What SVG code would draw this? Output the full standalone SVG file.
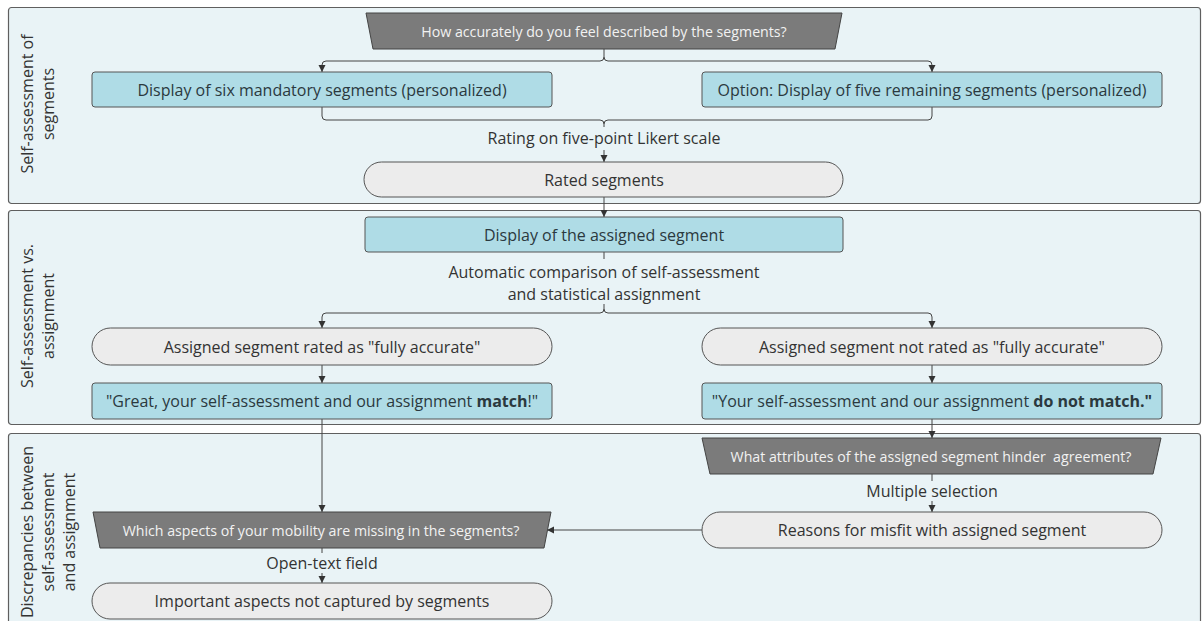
<svg xmlns="http://www.w3.org/2000/svg" width="1202" height="621" viewBox="0 0 1202 621">
<style>
  .panel { fill: #e9f3f6; stroke: #5f5f5f; stroke-width: 1.2; }
  .blue { fill: #afdce6; stroke: #555; stroke-width: 1; }
  .grey { fill: #ececec; stroke: #555; stroke-width: 1; }
  .trap { fill: #7b7b7b; stroke: #444; stroke-width: 1; stroke-linejoin: round; }
  text { font-family: "Open Sans", "Noto Sans", "Liberation Sans", sans-serif; fill: #333; }
  .t { font-size: 16px; text-anchor: middle; dominant-baseline: central; }
  .tb { fill: #2b393e; }
  .tw { font-size: 14.2px; text-anchor: middle; dominant-baseline: central; fill: #f2f2f2; white-space: pre; }
  .lane { font-size: 16px; text-anchor: middle; }
  .b { font-weight: bold; }
  .conn { fill: none; stroke: #444; stroke-width: 1; }
</style>
<defs>
  <marker id="arr" markerUnits="userSpaceOnUse" markerWidth="8" markerHeight="8" refX="7" refY="3.5" orient="auto">
    <path d="M0,0 L7,3.5 L0,7 z" fill="#333"/>
  </marker>
</defs>
<rect width="1202" height="621" fill="#ffffff"/>

<g id="lanes">
  <rect class="panel" x="8.5" y="7.5" width="1192" height="196" rx="3"/>
  <rect class="panel" x="8.5" y="210.5" width="1192" height="214" rx="3"/>
  <rect class="panel" x="8.5" y="433.5" width="1192" height="200" rx="3"/>
  <text class="lane" transform="translate(33,104) rotate(-90)"><tspan x="0" y="0">Self-assessment of</tspan><tspan x="0" y="21">segments</tspan></text>
  <text class="lane" transform="translate(33,316) rotate(-90)"><tspan x="0" y="0">Self-assessment vs.</tspan><tspan x="0" y="21">assignment</tspan></text>
  <text class="lane" transform="translate(33,532) rotate(-90)"><tspan x="0" y="0">Discrepancies between</tspan><tspan x="0" y="21">self-assessment</tspan><tspan x="0" y="42">and assignment</tspan></text>
</g>

<g id="connectors">
  <path class="conn" d="M604,49 V57 Q604,61 600,61 H326 Q322,61 322,65 V72" marker-end="url(#arr)"/>
  <path class="conn" d="M604,57 Q604,61 608,61 H928 Q932,61 932,65 V72" marker-end="url(#arr)"/>
  <path class="conn" d="M322,107 V116 Q322,120 326,120 H600 Q604,120 604,124 V127"/>
  <path class="conn" d="M932,107 V116 Q932,120 928,120 H608 Q604,120 604,124"/>
  <path class="conn" d="M604,150 V162" marker-end="url(#arr)"/>
  <path class="conn" d="M604,197 V217" marker-end="url(#arr)"/>
  <path class="conn" d="M604,252 V259"/>
  <path class="conn" d="M604,304 V309 Q604,313 600,313 H326 Q322,313 322,317 V328" marker-end="url(#arr)"/>
  <path class="conn" d="M604,309 Q604,313 608,313 H928 Q932,313 932,317 V328" marker-end="url(#arr)"/>
  <path class="conn" d="M322,365 V383" marker-end="url(#arr)"/>
  <path class="conn" d="M932,365 V383" marker-end="url(#arr)"/>
  <path class="conn" d="M322,419 V512" marker-end="url(#arr)"/>
  <path class="conn" d="M932,419 V438" marker-end="url(#arr)"/>
  <path class="conn" d="M932,474 V481"/>
  <path class="conn" d="M932,501 V512" marker-end="url(#arr)"/>
  <path class="conn" d="M702,530 H547" marker-end="url(#arr)"/>
  <path class="conn" d="M322,548 V553"/>
  <path class="conn" d="M322,573 V583" marker-end="url(#arr)"/>
</g>

<g id="q-accuracy">
  <polygon class="trap" points="366,13 842,13 835,49 373,49"/>
  <text class="tw" x="604" y="31">How accurately do you feel described by the segments?</text>
</g>
<g id="six-mandatory">
  <rect class="blue" x="92" y="72" width="460" height="35" rx="3"/>
  <text class="t tb" x="322" y="89.5">Display of six mandatory segments (personalized)</text>
</g>
<g id="five-remaining">
  <rect class="blue" x="702" y="72" width="460" height="35" rx="3"/>
  <text class="t tb" x="932" y="89.5">Option: Display of five remaining segments (personalized)</text>
</g>
<g id="label-likert">
  <text class="t" x="604" y="138">Rating on five-point Likert scale</text>
</g>
<g id="rated-segments">
  <rect class="grey" x="364" y="162" width="479" height="35" rx="17.5"/>
  <text class="t" x="604" y="179.5">Rated segments</text>
</g>
<g id="assigned-segment">
  <rect class="blue" x="365" y="217" width="478" height="35" rx="3"/>
  <text class="t tb" x="604" y="234.5">Display of the assigned segment</text>
</g>
<g id="label-comparison">
  <text class="t" x="604" y="272">Automatic comparison of self-assessment</text>
  <text class="t" x="604" y="294">and statistical assignment</text>
</g>
<g id="rated-accurate">
  <rect class="grey" x="92" y="328" width="460" height="37" rx="18.5"/>
  <text class="t" x="322" y="346.5">Assigned segment rated as "fully accurate"</text>
</g>
<g id="not-rated-accurate">
  <rect class="grey" x="702" y="328" width="460" height="37" rx="18.5"/>
  <text class="t" x="932" y="346.5">Assigned segment not rated as "fully accurate"</text>
</g>
<g id="match">
  <rect class="blue" x="92" y="383" width="460" height="36" rx="3"/>
  <text class="t tb" x="322" y="401">"Great, your self-assessment and our assignment <tspan class="b">match</tspan>!"</text>
</g>
<g id="no-match">
  <rect class="blue" x="702" y="383" width="460" height="36" rx="3"/>
  <text class="t tb" x="932" y="401">"Your self-assessment and our assignment <tspan class="b">do not match."</tspan></text>
</g>
<g id="q-attributes">
  <polygon class="trap" points="702,438 1161,438 1153,474 710,474"/>
  <text class="tw" x="931" y="456">What attributes of the assigned segment hinder  agreement?</text>
</g>
<g id="label-multiple">
  <text class="t" x="932" y="491">Multiple selection</text>
</g>
<g id="reasons-misfit">
  <rect class="grey" x="702" y="512" width="460" height="36" rx="18"/>
  <text class="t" x="932" y="530">Reasons for misfit with assigned segment</text>
</g>
<g id="q-missing">
  <polygon class="trap" points="93,512 551,512 544,548 100,548"/>
  <text class="tw" x="321" y="530">Which aspects of your mobility are missing in the segments?</text>
</g>
<g id="label-opentext">
  <text class="t" x="322" y="563">Open-text field</text>
</g>
<g id="important-aspects">
  <rect class="grey" x="92" y="583" width="460" height="36" rx="18"/>
  <text class="t" x="322" y="601">Important aspects not captured by segments</text>
</g>
</svg>
